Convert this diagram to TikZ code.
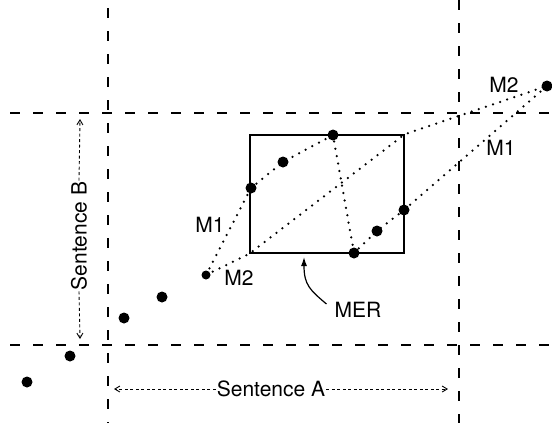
\documentclass[tikz,border=0pt]{standalone}
\usepackage{fontspec}
\setmainfont{TeX Gyre Heros}
\usetikzlibrary{arrows.meta}
\begin{document}
\begin{tikzpicture}[x=1pt,y=-1pt,
  grid/.style={line width=1.4pt,dash pattern=on 10pt off 13pt},
  dotpt/.style={circle,fill=black,inner sep=0pt,minimum size=11pt},
  smalldot/.style={circle,fill=black,inner sep=0pt,minimum size=9pt},
  dotline/.style={line width=2.5pt,line cap=round,dash pattern=on 0pt off 7.5pt},
  lbl/.style={font=\fontsize{21}{24}\selectfont,inner sep=1pt},
  sarrow/.style={line width=0.9pt,dash pattern=on 3pt off 2.5pt,-{Straight Barb[length=5pt,width=6pt]}},
  box/.style={draw,line width=1.5pt,minimum width=154pt,minimum height=118pt,inner sep=0pt}
]
\useasboundingbox (0,0) rectangle (552,423);
% grid lines
\coordinate (v1t) at (108,8); \coordinate (v1b) at (108,423);
\coordinate (v2t) at (459,0); \coordinate (v2b) at (459,423);
\coordinate (h1l) at (10,113); \coordinate (h1r) at (552,113);
\coordinate (h2l) at (10,345); \coordinate (h2r) at (552,345);
\draw[grid] (v1t) -- (v1b);
\draw[grid] (v2t) -- (v2b);
\draw[grid] (h1l) -- (h1r);
\draw[grid] (h2l) -- (h2r);
% MER rectangle
\node[box] (mer) at (327,194) {};
% dots
\node[dotpt] (p1) at (27,382) {};
\node[dotpt] (p2) at (70,356) {};
\node[dotpt] (p3) at (124,318) {};
\node[dotpt] (p4) at (162,297) {};
\node[smalldot] (p5) at (206,275) {};
\node[dotpt] (p6) at (251,188) {};
\node[dotpt] (p7) at (283,162) {};
\node[dotpt] (p8) at (333,135) {};
\node[dotpt] (p9) at (354,253) {};
\node[dotpt] (p10) at (377,231) {};
\node[dotpt] (p11) at (404,210) {};
\node[dotpt] (p12) at (547,86) {};
% alignment paths
\draw[dotline] (p5.center) -- (p6.center) -- (p7.center) -- (p8.center) -- (p9.center) -- (p10.center) -- (p11.center) -- (p12.center);
\draw[dotline] (p5.center) -- (mer.south west) -- (mer.north east) -- (p12.center);
% labels
\node[lbl] (m1a) at (210,225) {M1};
\node[lbl] (m2a) at (239,278) {M2};
\node[lbl] (m2b) at (504,85) {M2};
\node[lbl] (m1b) at (501,148) {M1};
\node[lbl] (merl) at (358,310) {MER};
\coordinate (mertip) at (304,257);
\draw[line width=1.2pt,-{Latex[length=9pt,width=6pt]}] (merl.west) ++(-7,-6) .. controls (310,290) and (304,285) .. (mertip);
% sentence labels
\node[lbl,rotate=90] (sb) at (79,236) {Sentence B};
\coordinate (bt) at (80,119);
\coordinate (bb) at (80,339);
\draw[sarrow] (sb.east) -- (bt);
\draw[sarrow] (sb.west) -- (bb);
\node[lbl] (sa) at (271,389) {Sentence A};
\coordinate (al) at (114,389);
\coordinate (ar) at (448,389);
\draw[sarrow] (sa.west) -- (al);
\draw[sarrow] (sa.east) -- (ar);
\end{tikzpicture}
\end{document}
